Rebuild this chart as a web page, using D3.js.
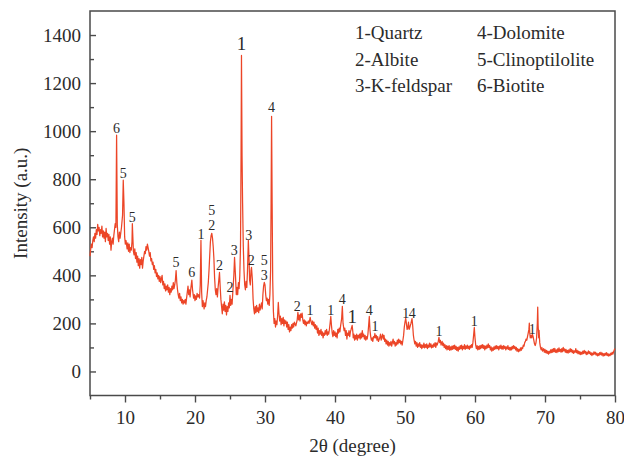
<!DOCTYPE html>
<html>
<head>
<meta charset="utf-8">
<script src="https://cdn.jsdelivr.net/npm/d3@7/dist/d3.min.js"></script>
<style>
  html, body { margin: 0; padding: 0; background: #fff; }
  svg { display: block; font-family: "Liberation Serif", "Times New Roman", serif; }
</style>
</head>
<body>
<svg id="chart" width="624" height="464"></svg>
<script>
// XRD scan: [2θ (degree), intensity (a.u.)]
const scanLow = [
  [5.0,480],[5.1,510],[5.2,530],[5.3,515],[5.4,545],[5.5,560],[5.6,540],[5.7,575],[5.8,555],[5.9,590],
  [6.0,570],[6.1,612],[6.2,585],[6.3,600],[6.4,565],[6.5,590],[6.6,575],[6.7,605],[6.8,560],[6.9,585],
  [7.0,555],[7.1,580],[7.2,540],[7.3,595],[7.4,560],[7.5,575],[7.6,545],[7.7,570],[7.8,530],[7.9,560],
  [8.0,505],[8.1,540],[8.2,555],[8.3,530],[8.4,565],[8.5,590],[8.6,615],[8.7,600],[8.8,983],[8.9,610],
  [9.0,560],[9.1,540],[9.2,580],[9.3,555],[9.5,600],[9.65,650],[9.75,796],[9.85,700],[9.95,560],[10.05,530],
  [10.15,545],[10.3,510],[10.4,535],[10.5,500],[10.6,530],[10.7,495],[10.8,515],[10.9,505],[11.0,540],[11.05,615],
  [11.12,560],[11.2,500],[11.3,485],[11.4,510],[11.5,470],[11.6,495],[11.7,455],[11.8,480],[11.9,440],[12.0,470],
  [12.1,430],[12.2,465],[12.3,445],[12.4,475],[12.5,430],[12.6,460],[12.7,480],[12.8,500],[12.9,490],[13.0,520],
  [13.1,505],[13.2,530],[13.3,515],[13.4,500],[13.5,480],[13.6,495],[13.7,460],[13.8,470],[13.9,445],[14.0,455],
  [14.1,425],[14.2,440],[14.3,410],[14.4,425],[14.5,395],[14.6,410],[14.7,385],[14.8,400],[14.9,375],[15.0,395],
  [15.1,370],[15.2,385],[15.3,400],[15.4,360],[15.5,375],[15.6,345],[15.7,365],[15.8,335],[15.9,355],[16.0,340],
  [16.1,360],[16.2,330],[16.3,350],[16.4,320],[16.5,345],[16.6,330],[16.7,355],[16.8,340],[16.9,370],[17.0,345],
  [17.1,360],[17.2,380],[17.3,420],[17.4,370],[17.5,340],[17.6,320],[17.7,305],[17.8,325],[17.9,295],[18.0,310],
  [18.1,285],[18.2,300],[18.3,280],[18.4,295],[18.5,285],[18.6,300],[18.7,280],[18.8,305],[18.9,330],[19.0,355],
  [19.1,320],[19.2,340],[19.3,310],[19.4,345],[19.55,380],[19.65,340],[19.8,305],[19.9,320],[20.0,295],[20.1,315],
  [20.2,300],[20.3,325],[20.4,310],[20.5,320],[20.65,305],[20.75,360],[20.85,546],[20.95,330],[21.05,270],[21.15,295],
  [21.3,260],[21.4,285],[21.5,270],[21.6,295],[21.7,310],[21.8,340],[21.9,370],[22.0,420],[22.1,480],[22.2,540],
  [22.3,565],[22.4,575],[22.5,555],[22.6,520],[22.7,470],[22.8,390],[22.9,340],[23.0,320],[23.1,345],[23.2,310],
  [23.3,350],[23.4,380],[23.5,412],[23.6,350],[23.7,300],[23.8,270],[23.9,240],[24.0,280],[24.1,255],[24.2,290],
  [24.3,250],[24.4,275],[24.5,235],[24.6,270],[24.7,250],[24.8,285],[24.9,265],[25.0,317],[25.1,275],[25.2,300],
  [25.3,280],[25.4,330],[25.55,400],[25.65,475],[25.78,400],[25.9,320],[26.0,350],[26.1,320],[26.2,370],[26.3,345],
  [26.4,400],[26.5,520],[26.58,900],[26.64,1315],[26.72,900],[26.8,700],[26.9,520],[27.0,420],[27.1,360],[27.2,340],
  [27.3,375],[27.4,350],[27.5,420],[27.62,546],[27.72,470],[27.8,380],[27.9,360],[28.0,420],[28.07,433],[28.2,380],
  [28.3,300],[28.4,260],[28.5,240],[28.6,270],[28.7,245],[28.8,275],[28.9,250],[29.0,265],[29.1,245],[29.2,280],
  [29.3,255],[29.4,270],[29.5,285],[29.6,260],[29.7,320],[29.8,355],[29.9,371],[30.0,360],[30.1,320],[30.2,295],
  [30.3,305],[30.4,280],[30.5,300],[30.6,275],[30.7,320],[30.8,420],[30.87,700],[30.94,1062],[31.02,700],[31.1,380],
  [31.2,250],[31.3,200],[31.4,220],[31.5,185],[31.6,210],[31.7,195],[31.8,230],[31.9,287],[32.0,240],[32.1,210],
  [32.2,230],[32.3,195],[32.4,220],[32.5,200],[32.6,225],[32.7,190],[32.8,215],[32.9,200],[33.0,210],[33.1,185],
  [33.2,205],[33.3,175],[33.4,195],[33.5,165],[33.6,185],[33.7,170],[33.8,195],[33.9,180],[34.0,200],[34.1,185],
  [34.2,205],[34.4,190],[34.6,215],[34.7,246],[34.8,215],[34.9,235],[35.0,210],[35.1,240],[35.2,225],[35.3,243],
  [35.4,215],[35.5,200],[35.6,215],[35.7,195],[35.8,210],[35.9,190],[36.0,205],[36.1,200],[36.2,210],[36.3,200],
  [36.45,225],[36.55,210],[36.7,195],[36.8,210],[36.9,190],[37.0,205],[37.1,180],[37.2,195],[37.3,175],[37.4,190],
  [37.5,160],[37.6,180],[37.7,150],[37.8,170],[37.9,155],[38.0,175],[38.1,150],[38.2,165],[38.3,140],[38.4,160],
  [38.5,150],[38.6,170],[38.7,155],[38.8,175],[38.9,150],[39.0,165],[39.1,155],[39.2,175],[39.3,200],[39.4,229],
  [39.5,190],[39.6,160],[39.7,145],[39.8,170],[39.9,150],[40.0,165]
];

const scanHigh = [
  [40.1,145],[40.2,160],[40.3,140],[40.4,175],[40.5,160],[40.6,180],[40.7,165],[40.8,190],[40.95,220],[41.05,271],
  [41.15,200],[41.3,170],[41.4,180],[41.5,150],[41.6,170],[41.7,135],[41.8,160],[41.9,150],[42.0,170],[42.1,145],
  [42.2,165],[42.3,175],[42.45,192],[42.55,165],[42.6,140],[42.7,155],[42.8,130],[42.9,150],[43.0,135],[43.1,155],
  [43.2,130],[43.3,150],[43.4,140],[43.5,155],[43.6,135],[43.7,160],[43.8,140],[43.9,170],[44.0,145],[44.1,155],
  [44.2,135],[44.3,150],[44.4,130],[44.5,145],[44.6,135],[44.7,155],[44.8,190],[44.9,229],[45.0,170],[45.1,145],
  [45.2,130],[45.3,140],[45.4,125],[45.5,145],[45.6,140],[45.7,158],[45.8,140],[45.9,150],[46.0,130],[46.1,145],
  [46.2,125],[46.4,140],[46.5,155],[46.6,130],[46.7,145],[46.8,155],[46.9,135],[47.0,150],[47.1,125],[47.2,135],
  [47.3,115],[47.4,130],[47.5,110],[47.6,125],[47.7,105],[47.8,120],[47.9,110],[48.0,125],[48.1,105],[48.2,120],
  [48.3,135],[48.4,115],[48.5,125],[48.6,105],[48.7,120],[48.8,110],[48.9,130],[49.0,115],[49.1,135],[49.2,120],
  [49.3,130],[49.4,115],[49.5,125],[49.6,110],[49.7,130],[49.8,150],[49.9,185],[50.0,205],[50.1,221],[50.2,200],
  [50.3,175],[50.4,180],[50.5,205],[50.6,175],[50.7,185],[50.85,200],[51.0,220],[51.1,190],[51.2,150],[51.3,130],
  [51.4,115],[51.5,125],[51.6,105],[51.7,120],[51.8,100],[51.9,115],[52.0,105],[52.1,120],[52.2,100],[52.3,112],
  [52.4,95],[52.5,110],[52.6,100],[52.7,118],[52.8,98],[52.9,112],[53.0,100],[53.1,115],[53.2,95],[53.3,110],
  [53.4,100],[53.5,118],[53.6,102],[53.7,115],[53.8,98],[53.9,110],[54.0,100],[54.1,115],[54.2,105],[54.3,120],
  [54.4,100],[54.5,118],[54.6,110],[54.75,125],[54.85,142],[54.95,120],[55.05,130],[55.15,110],[55.3,125],[55.4,108],
  [55.5,118],[55.6,100],[55.7,112],[55.8,95],[55.9,108],[56.0,90],[56.1,105],[56.2,92],[56.3,108],[56.4,88],
  [56.5,102],[56.6,90],[56.7,105],[56.8,92],[56.9,108],[57.0,95],[57.1,110],[57.2,92],[57.3,104],[57.4,88],
  [57.5,100],[57.6,85],[57.7,102],[57.8,92],[57.9,108],[58.0,95],[58.1,110],[58.2,90],[58.3,104],[58.4,95],
  [58.5,112],[58.6,92],[58.7,106],[58.8,96],[58.9,110],[59.0,95],[59.1,105],[59.2,92],[59.3,108],[59.4,98],
  [59.5,112],[59.6,100],[59.7,120],[59.8,150],[59.9,183],[60.0,140],[60.1,110],[60.2,95],[60.3,108],[60.4,90],
  [60.5,104],[60.6,92],[60.7,108],[60.8,95],[60.9,110],[61.0,98],[61.1,112],[61.2,96],[61.3,108],[61.4,90],
  [61.5,105],[61.6,95],[61.7,110],[61.8,98],[61.9,115],[62.0,100],[62.1,108],[62.2,90],[62.3,102],[62.4,85],
  [62.5,98],[62.6,88],[62.7,102],[62.8,92],[62.9,106],[63.0,94],[63.1,108],[63.2,95],[63.3,104],[63.4,90],
  [63.5,106],[63.6,96],[63.7,110],[63.8,94],[63.9,105],[64.0,92],[64.1,108],[64.2,96],[64.3,104],[64.4,90],
  [64.5,102],[64.6,94],[64.7,108],[64.8,92],[64.9,100],[65.0,88],[65.1,100],[65.2,90],[65.3,104],[65.4,94],
  [65.5,108],[65.6,96],[65.7,104],[65.8,90],[65.9,100],[66.0,85],[66.1,95],[66.2,82],[66.3,92],[66.4,85],
  [66.5,98],[66.6,88],[66.7,100],[66.8,95],[66.9,110],[67.0,105],[67.1,120],[67.2,125],[67.3,135],[67.4,130],
  [67.5,145],[67.6,160],[67.7,175],[67.76,201],[67.82,160],[67.9,140],[68.0,150],[68.1,140],[68.2,155],[68.3,145],
  [68.4,130],[68.5,115],[68.6,108],[68.7,118],[68.8,140],[68.9,200],[68.96,268],[69.02,190],[69.1,140],[69.15,171],
  [69.25,120],[69.35,100],[69.45,90],[69.55,100],[69.65,85],[69.8,95],[69.9,80],[70.0,92],[70.1,78],[70.2,88],
  [70.3,75],[70.4,85],[70.5,72],[70.6,84],[70.7,76],[70.8,90],[70.9,78],[71.0,92],[71.1,80],[71.2,95],
  [71.3,82],[71.4,96],[71.5,80],[71.6,90],[71.7,78],[71.8,94],[71.9,82],[72.0,98],[72.1,84],[72.2,92],
  [72.3,80],[72.4,95],[72.5,82],[72.6,100],[72.7,86],[72.8,94],[72.9,80],[73.0,92],[73.1,78],[73.2,88],
  [73.3,76],[73.4,90],[73.5,80],[73.6,95],[73.7,82],[73.8,92],[73.9,78],[74.0,88],[74.1,75],[74.2,86],
  [74.3,80],[74.4,95],[74.5,78],[74.6,88],[74.7,74],[74.8,85],[74.9,72],[75.0,82],[75.1,70],[75.2,80],
  [75.3,72],[75.4,85],[75.5,74],[75.6,88],[75.7,76],[75.8,84],[75.9,70],[76.0,80],[76.1,72],[76.2,86],
  [76.3,75],[76.4,82],[76.5,70],[76.6,78],[76.7,66],[76.8,76],[76.9,70],[77.0,82],[77.1,72],[77.2,80],
  [77.3,68],[77.4,76],[77.5,65],[77.6,74],[77.7,66],[77.8,78],[77.9,70],[78.0,80],[78.1,68],[78.2,76],
  [78.3,64],[78.4,74],[78.5,66],[78.6,76],[78.7,68],[78.8,78],[78.9,66],[79.0,74],[79.1,64],[79.2,72],
  [79.3,66],[79.4,76],[79.5,70],[79.6,80],[79.7,72],[79.8,82],[79.9,90],[80.0,96]
];

// Phase marks above the reflections: [label, 2θ, intensity of label baseline]
const peakMarks = [
  ["6",8.8,993],["5",9.75,804],["5",11.05,621],["5",17.3,433],["6",19.55,393],
  ["1",20.85,550],["2",22.4,587],["5",22.4,650],["2",23.5,421],["2",25.0,329],
  ["3",25.62,483],["1",26.64,1337],["3",27.67,546],["2",28.04,442],["5",29.9,442],
  ["3",29.9,382],["4",30.94,1078],["2",34.61,251],["1",36.43,236],["1",39.39,236],
  ["4",41.04,282],["1",42.47,201],["4",44.9,236],["1",45.71,167],["1",50.1,224],
  ["4",51.04,224],["1",54.86,146],["1",59.9,189],["1",68.19,154]
];
// the two quartz marks typeset larger
const largeMarks = new Set([11, 21]);

const phaseLegend = [
  ["1-Quartz","2-Albite","3-K-feldspar"],
  ["4-Dolomite","5-Clinoptilolite","6-Biotite"]
];

const xMajorTicks = [10,20,30,40,50,60,70,80];
const xMinorTicks = [5,15,25,35,45,55,65,75];
const yMajorTicks = [0,200,400,600,800,1000,1200,1400];
const yMinorTicks = [100,300,500,700,900,1100,1300];

const xTitle = "2θ (degree)";
const yTitle = "Intensity (a.u.)";

// ---- drawing ----
const svg = d3.select("#chart");
const plotL = 90, plotR = 615, plotT = 11, plotB = 395.5;
const x = d3.scaleLinear().domain([5, 80]).range([plotL, plotR]);
const y = d3.scaleLinear().domain([-100, 1500]).range([plotB, plotT]);

const axisColor = "#4a4a4a";
const textColor = "#2b2b2b";
const serif = '"Liberation Serif", "Times New Roman", serif';

// x axis (ticks outward)
const gx = svg.append("g").attr("transform", `translate(0,${plotB})`);
gx.call(d3.axisBottom(x).tickValues(xMajorTicks).tickSize(7).tickPadding(8).tickFormat(d3.format("d")));
gx.append("g").call(d3.axisBottom(x).tickValues(xMinorTicks).tickSize(4).tickFormat(""));

// y axis (ticks inward)
const gy = svg.append("g").attr("transform", `translate(${plotL},0)`);
gy.call(d3.axisLeft(y).tickValues(yMajorTicks).tickSize(-6).tickPadding(9).tickFormat(d3.format("d")));
gy.append("g").call(d3.axisLeft(y).tickValues(yMinorTicks).tickSize(-4).tickFormat(""));

svg.selectAll(".domain").remove();
svg.selectAll("g").attr("font-family", serif);
svg.selectAll(".tick line").attr("stroke", axisColor).attr("stroke-width", 1.4);
svg.selectAll(".tick text")
  .attr("fill", textColor)
  .style("font-size", "19px")
  .style("font-family", serif);

// frame
svg.append("rect")
  .attr("x", plotL).attr("y", plotT)
  .attr("width", plotR - plotL).attr("height", plotB - plotT)
  .attr("fill", "none").attr("stroke", axisColor).attr("stroke-width", 1.5);

// scan trace
const scan = scanLow.concat(scanHigh);
const line = d3.line().x(d => x(d[0])).y(d => y(d[1]));
svg.append("path")
  .datum(scan)
  .attr("d", line)
  .attr("fill", "none")
  .attr("stroke", "#ec4527")
  .attr("stroke-width", 1.25)
  .attr("stroke-linejoin", "round");

// phase marks
svg.append("g").selectAll("text")
  .data(peakMarks)
  .join("text")
  .attr("x", d => x(d[1]))
  .attr("y", d => y(d[2]))
  .attr("text-anchor", "middle")
  .attr("fill", textColor)
  .style("font-family", serif)
  .style("font-size", (d, i) => largeMarks.has(i) ? "19px" : "14px")
  .text(d => d[0]);

// legend
const legend = svg.append("g");
phaseLegend.forEach((col, ci) => {
  col.forEach((label, ri) => {
    legend.append("text")
      .attr("x", 355 + ci * 122)
      .attr("y", 39 + ri * 26.5)
      .attr("fill", textColor)
      .style("font-family", serif)
      .style("font-size", "19px")
      .text(label);
  });
});

// axis titles
svg.append("text")
  .attr("x", (plotL + plotR) / 2)
  .attr("y", 452)
  .attr("text-anchor", "middle")
  .attr("fill", textColor)
  .style("font-family", serif)
  .style("font-size", "19px")
  .text(xTitle);

svg.append("text")
  .attr("transform", `translate(27,${(plotT + plotB) / 2}) rotate(-90)`)
  .attr("text-anchor", "middle")
  .attr("fill", textColor)
  .style("font-family", serif)
  .style("font-size", "19px")
  .text(yTitle);
</script>
</body>
</html>
